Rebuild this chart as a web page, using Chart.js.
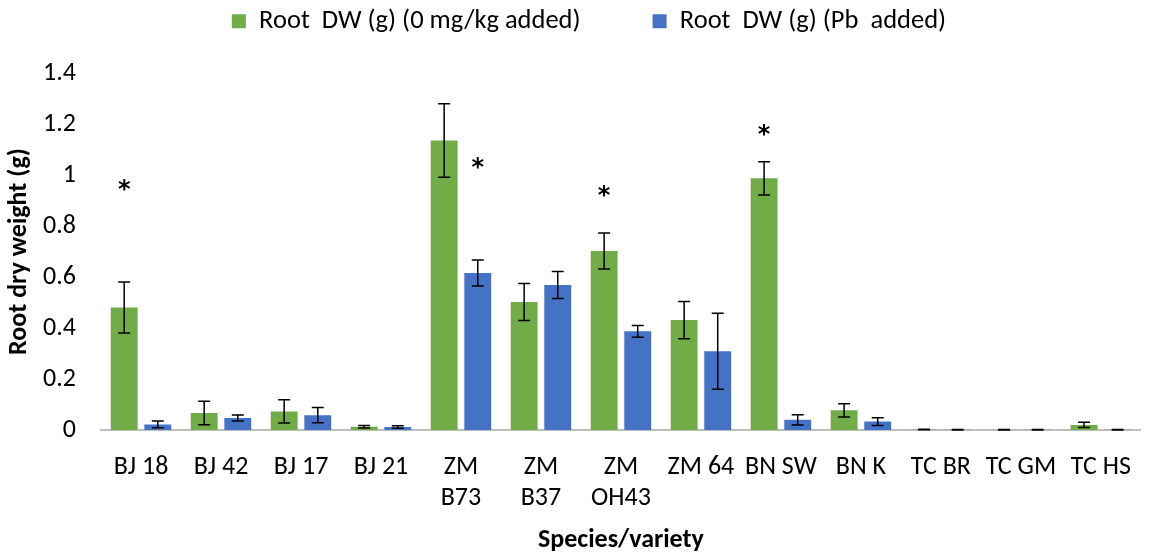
<!DOCTYPE html>
<html>
<head>
<meta charset="utf-8">
<script src="https://cdn.jsdelivr.net/npm/chart.js@4"></script>
<style>
  html, body { margin: 0; padding: 0; background: #fff; }
  #wrap { width: 1153px; height: 553px; }
</style>
</head>
<body>
<div id="wrap"><canvas id="c"></canvas></div>
<script>
// ─── data ────────────────────────────────────────────────────────────────────
const labels = ['BJ 18', 'BJ 42', 'BJ 17', 'BJ 21', ['ZM', 'B73'], ['ZM', 'B37'], ['ZM', 'OH43'],
  'ZM 64', 'BN SW', 'BN K', 'TC BR', 'TC GM', 'TC HS'];

const ctrlDW  = [0.48, 0.067, 0.073, 0.013, 1.135, 0.502, 0.702, 0.431, 0.987, 0.077, 0.002, 0.001, 0.02];
const ctrlErr = [0.10, 0.046, 0.046, 0.005, 0.144, 0.073, 0.071, 0.073, 0.065, 0.026, 0.001, 0.001, 0.01];
const pbDW    = [0.022, 0.047, 0.058, 0.012, 0.616, 0.569, 0.387, 0.309, 0.040, 0.033, 0.001, 0.001, 0.001];
const pbErr   = [0.013, 0.012, 0.030, 0.005, 0.051, 0.053, 0.023, 0.149, 0.020, 0.015, 0.001, 0.001, 0.001];

// significance markers: [category index, dataset index, y value]
const stars = [[0, 0, 0.96], [4, 1, 1.047], [6, 0, 0.94], [8, 0, 1.176]];

const FONT = "'Carlito', 'Liberation Sans Narrow', 'Open Sans', sans-serif";
const C = { green: '#70ad47', blue: '#4472c4', axis: '#bfbfbf', text: '#000' };

// ─── error bars + asterisks ──────────────────────────────────────────────────
const errorBars = {
  id: 'errorBars',
  afterInit(chart) {
    // wide gap between legend items without a tall legend box, nudged right a bit
    const lg = chart.legend;
    if (!lg) return;
    const fit = lg.fit, draw = lg.draw;
    lg.fit = function () { fit.call(this); this.height = 137; };
    lg.draw = function () {
      const ctx = this.ctx;
      ctx.save(); ctx.translate(14, 0);
      draw.call(this);
      ctx.restore();
    };
  },
  afterDatasetsDraw(chart) {
    const { ctx, scales: { y } } = chart;
    const errs = [ctrlErr, pbErr];
    ctx.save();
    ctx.strokeStyle = '#000';
    ctx.lineWidth = 1.5;
    chart.data.datasets.forEach((ds, di) => {
      chart.getDatasetMeta(di).data.forEach((bar, i) => {
        const v = ds.data[i], e = errs[di][i];
        const x = bar.x;
        const yt = y.getPixelForValue(v + e), yb = y.getPixelForValue(Math.max(v - e, 0));
        ctx.beginPath();
        ctx.moveTo(x, yt); ctx.lineTo(x, yb);
        ctx.moveTo(x - 6, yt); ctx.lineTo(x + 6, yt);
        ctx.moveTo(x - 6, yb); ctx.lineTo(x + 6, yb);
        ctx.stroke();
      });
    });
    ctx.fillStyle = '#000';
    ctx.font = "bold 24px 'DejaVu Sans', sans-serif";
    ctx.textAlign = 'center';
    ctx.textBaseline = 'middle';
    stars.forEach(([i, di, v]) => {
      const bar = chart.getDatasetMeta(di).data[i];
      ctx.fillText('*', bar.x, y.getPixelForValue(v) + 6);
    });
    ctx.restore();
  },
};

new Chart(document.getElementById('c'), {
  type: 'bar',
  data: {
    labels,
    datasets: [
      { label: 'Root  DW (g) (0 mg/kg added)', data: ctrlDW, backgroundColor: C.green },
      { label: 'Root  DW (g) (Pb  added)', data: pbDW, backgroundColor: C.blue },
    ],
  },
  options: {
    responsive: true,
    maintainAspectRatio: false,
    animation: false,
    layout: { padding: { left: 0, right: 3, top: -64, bottom: 0 } },
    datasets: { bar: { categoryPercentage: 0.84, barPercentage: 0.8 } },
    plugins: {
      legend: {
        position: 'top',
        labels: {
          color: C.text,
          font: { family: FONT, size: 26.5 },
          boxWidth: 14, boxHeight: 14, padding: 72,
        },
      },
      tooltip: { enabled: false },
    },
    scales: {
      x: {
        grid: { display: false, drawTicks: false },
        border: { color: C.axis, width: 2 },
        ticks: { color: C.text, font: { family: FONT, size: 26 }, maxRotation: 0, autoSkip: false, padding: 22 },
        title: { display: true, text: 'Species/variety', color: C.text, font: { family: FONT, size: 26, weight: 'bold' }, padding: { top: 4, bottom: -3 } },
        afterFit: s => { s.height = 123; },
      },
      y: {
        min: 0, max: 1.4,
        grid: { display: false, drawTicks: false },
        border: { display: false },
        ticks: {
          stepSize: 0.2, color: C.text, font: { family: FONT, size: 26 }, padding: 25,
          callback: v => String(Number(v.toFixed(1))),
        },
        title: { display: true, text: 'Root dry weight (g)', color: C.text, font: { family: FONT, size: 26, weight: 'bold' } },
        afterFit: s => { s.width = 101; },
      },
    },
  },
  plugins: [errorBars],
});
</script>
</body>
</html>
